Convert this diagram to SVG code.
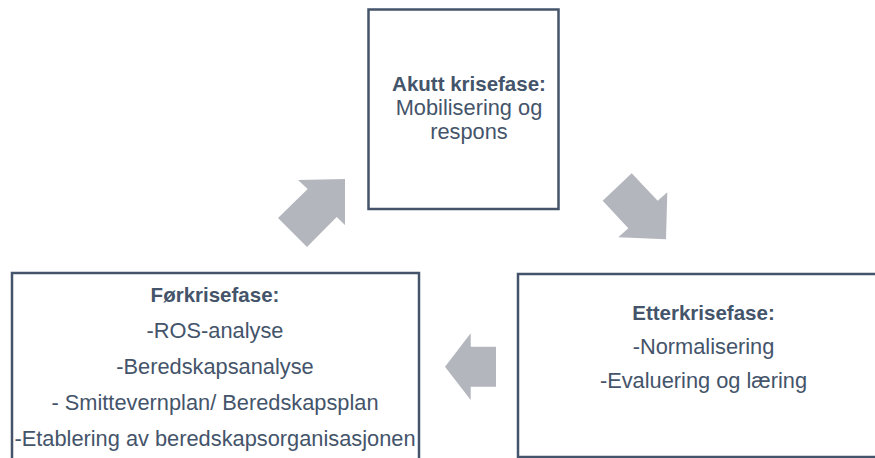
<svg xmlns="http://www.w3.org/2000/svg" width="875" height="458" viewBox="0 0 875 458">
<style>
.box{fill:#fff;stroke:#44546A;stroke-width:2.5}
.arrow{fill:#B3B6BD}
text{font-family:"Liberation Sans",Arial,sans-serif;fill:#44546A;text-anchor:middle}
.t{font-size:21.8px}
.b{font-size:20.5px;font-weight:bold}
</style>
<rect width="875" height="458" fill="#fff"/>
<g id="connectors">
<polygon class="arrow" points="298,180 345,179 345,225 336.7,217 307,247 278,218 307.7,189"/>
<polygon class="arrow" points="602.7,200.7 631.7,173.3 657.7,200.7 667.3,192.3 666,239.3 618.3,237.3 628.3,228.3"/>
<polygon class="arrow" points="445,366.7 470.7,333.3 470.7,346.7 496,346.7 496,386.7 470.7,386.7 470.7,400"/>
</g>
<g id="akutt">
<rect class="box" x="368.5" y="9.5" width="190" height="199.5"/>
<text x="469" y="91" class="b">Akutt krisefase:</text>
<text x="469" y="115" class="t">Mobilisering og</text>
<text x="469" y="139" class="t">respons</text>
</g>
<g id="forkrise">
<rect class="box" x="12" y="273" width="407" height="200"/>
<text x="215" y="302" class="b">Førkrisefase:</text>
<text x="215" y="338" class="t">-ROS-analyse</text>
<text x="215" y="374" class="t">-Beredskapsanalyse</text>
<text x="215" y="410" class="t">- Smittevernplan/ Beredskapsplan</text>
<text x="215" y="446" class="t">-Etablering av beredskapsorganisasjonen</text>
</g>
<g id="etterkrise">
<rect class="box" x="518" y="274" width="380" height="183"/>
<text x="703.5" y="320" class="b">Etterkrisefase:</text>
<text x="703.5" y="354" class="t">-Normalisering</text>
<text x="703.5" y="388" class="t">-Evaluering og læring</text>
</g>
</svg>
